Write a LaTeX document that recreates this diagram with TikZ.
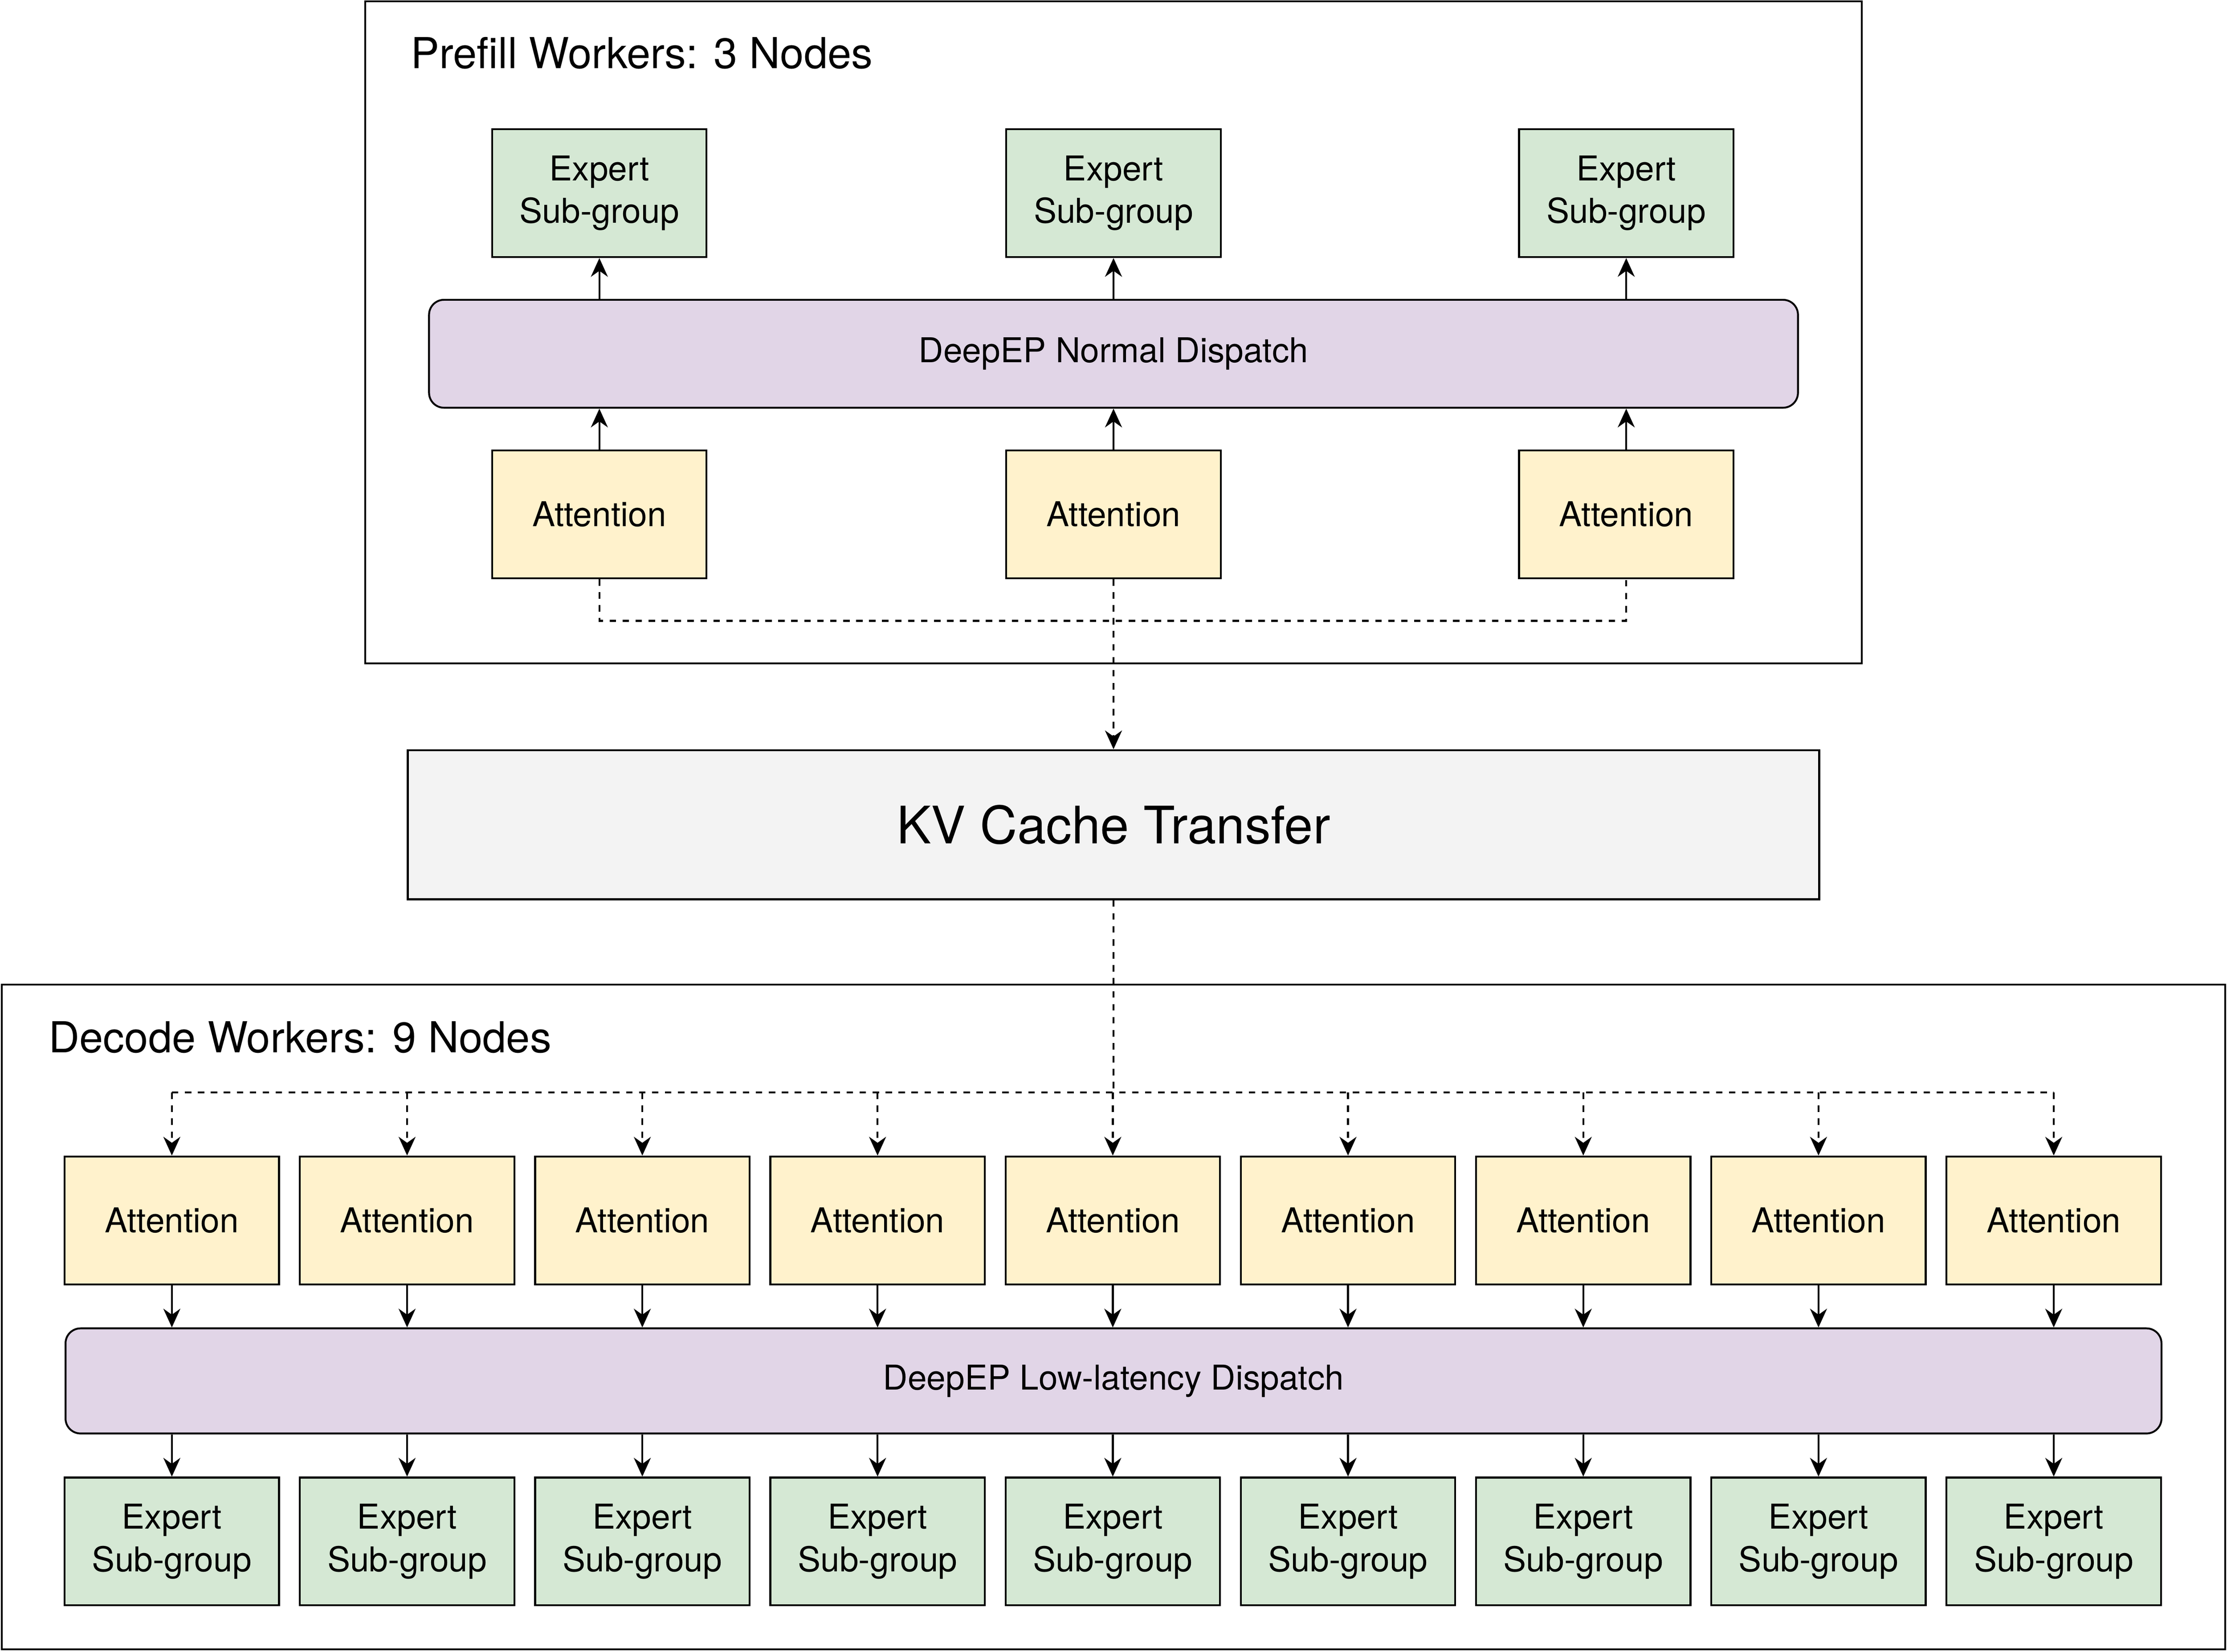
\documentclass[tikz,border=0pt]{standalone}
\usepackage{fontspec}
\setmainfont{TeX Gyre Heros}
\usepackage{xcolor}
\usetikzlibrary{arrows.meta,positioning,calc}

\definecolor{expertgreen}{HTML}{D5E8D4}
\definecolor{attnyellow}{HTML}{FFF2CC}
\definecolor{dispatchpurple}{HTML}{E1D5E7}
\definecolor{kvgray}{HTML}{F3F3F3}

\tikzset{
  box/.style={draw, line width=0.75pt, minimum width=3.02cm, minimum height=1.8cm,
    inner sep=0pt, align=center, font=\fontsize{13.7}{17}\selectfont},
  expert/.style={box, fill=expertgreen},
  attn/.style={box, fill=attnyellow},
  dispatch/.style={draw, line width=0.75pt, rounded corners=6pt, fill=dispatchpurple,
    inner sep=0pt, font=\fontsize{13.7}{17}\selectfont},
  frame/.style={draw, line width=0.75pt, inner sep=0pt},
  title/.style={anchor=base west, inner sep=0pt, font=\fontsize{17.1}{20}\selectfont},
  link/.style={line width=0.75pt, ->},
  kvlink/.style={link, dash pattern=on 2.6pt off 2.6pt},
}

\begin{document}
\begin{tikzpicture}[x=0.02cm, y=-0.02cm, >={Stealth[length=7.5pt,width=6.8pt,inset=2.4pt]}]
  \useasboundingbox (0,0) rectangle (1568,1162.8);

  % prefill side
  \node[frame, minimum width=21.08cm, minimum height=9.32cm] (prefill) at (784,234) {};
  \node[title] (prefilltitle) at (289,48) {Prefill Workers: 3 Nodes};
  \node[dispatch, minimum width=19.28cm, minimum height=1.52cm] (pdisp) at (784,249) {DeepEP Normal Dispatch};
  \foreach \i/\x in {1/422,2/784,3/1145} {
    \node[expert] (pexp\i) at (\x,136) {Expert\\Sub-group};
    \node[attn] (pattn\i) at (\x,362) {Attention};
    \draw[link] (pattn\i.north) -- (pattn\i.north |- pdisp.south);
    \draw[link] (pdisp.north -| pexp\i.south) -- (pexp\i.south);
  }

  % kv cache transfer
  \node[draw, line width=0.75pt, fill=kvgray, minimum width=19.88cm, minimum height=2.1cm,
    font=\fontsize{20.7}{25}\selectfont] (kv) at (784,580.5) {KV Cache Transfer};
  \coordinate (pjoin) at (784,437);
  \draw[kvlink,-] (pattn1.south) |- (pjoin) -| (pattn3.south);
  \draw[kvlink] (pattn2.south) -- (kv.north);

  % decode side
  \node[frame, minimum width=31.32cm, minimum height=9.36cm] (decode) at (784,927) {};
  \node[title] (decodetitle) at (34,741) {Decode Workers: 9 Nodes};
  \node[dispatch, minimum width=29.52cm, minimum height=1.48cm] (ddisp) at (784,972) {DeepEP Low-latency Dispatch};
  \coordinate (djoin) at (784,769);
  \foreach \i in {1,...,9} {
    \pgfmathsetmacro\x{121+165.625*(\i-1)}
    \node[attn] (dattn\i) at (\x,859) {Attention};
    \node[expert] (dexp\i) at (\x,1085) {Expert\\Sub-group};
    \draw[link] (dattn\i.south) -- (dattn\i.south |- ddisp.north);
    \draw[link] (ddisp.south -| dexp\i.north) -- (dexp\i.north);
  }
  \draw[kvlink,-] (kv.south) -- (djoin);
  \draw[kvlink,-] (dattn1.north |- djoin) -- (dattn9.north |- djoin);
  \foreach \i in {1,...,9}
    \draw[kvlink] (dattn\i.north |- djoin) -- (dattn\i.north);
\end{tikzpicture}
\end{document}
